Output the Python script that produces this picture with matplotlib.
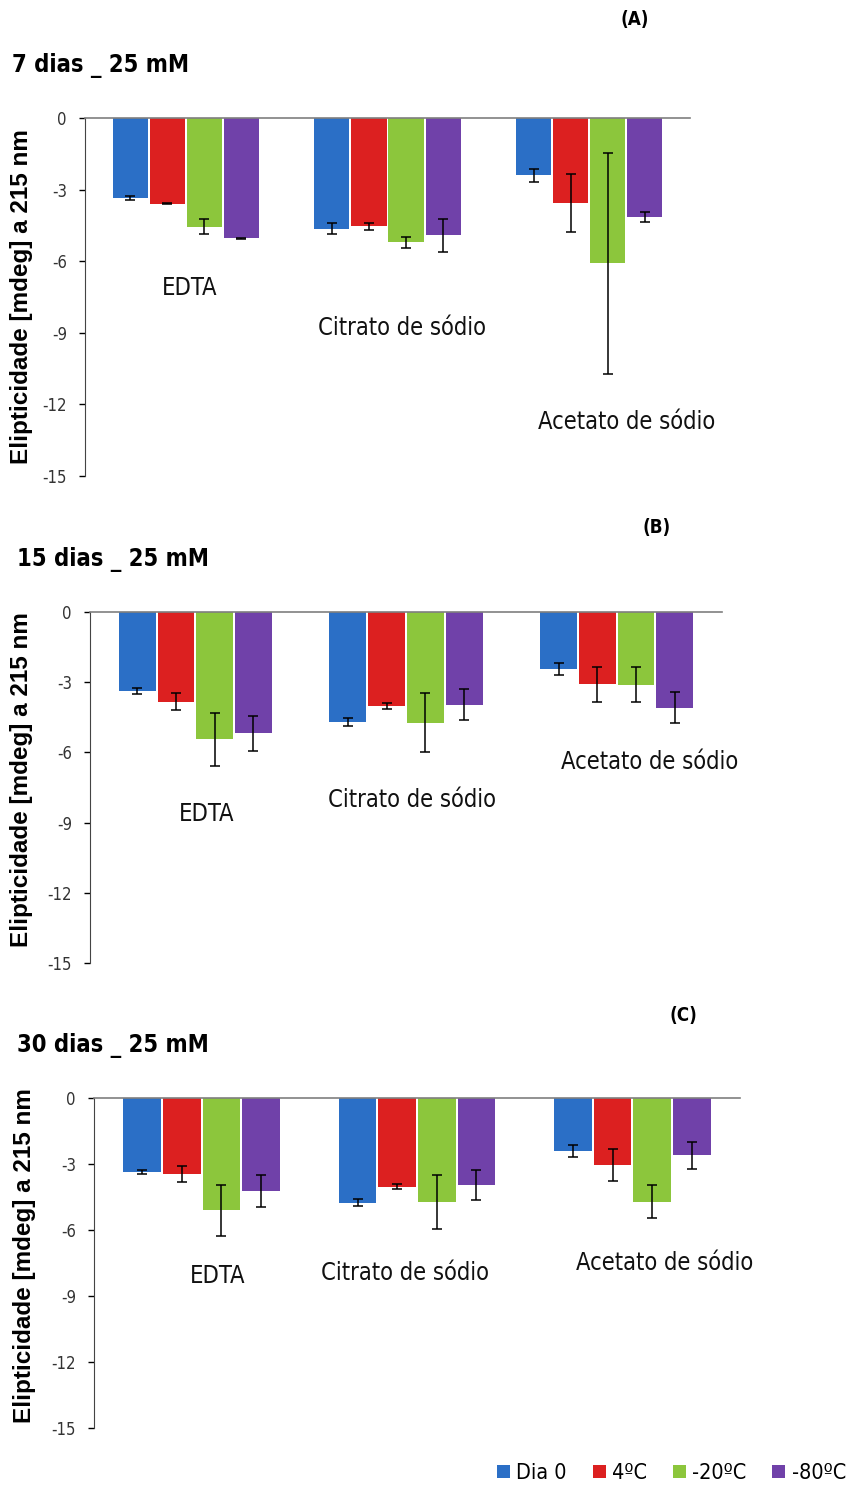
import matplotlib
matplotlib.use('Agg')
import matplotlib.pyplot as plt
import numpy as np
from matplotlib.patches import Patch

W, H = 848, 1486

groups = ['EDTA', 'Citrato de sódio', 'Acetato de sódio']
series = ['Dia 0', '4ºC', '-20ºC', '-80ºC']
colors = ['#2b6fc6', '#dc2020', '#8cc63c', '#7041a9']

# (A) 7 dias
vals_a = [[-3.35, -4.64, -2.40],
          [-3.59, -4.54, -3.55],
          [-4.56, -5.21, -6.08],
          [-5.03, -4.92, -4.15]]
err_a = [[0.10, 0.22, 0.27],
         [0.03, 0.15, 1.22],
         [0.31, 0.23, 4.63],
         [0.02, 0.68, 0.22]]

# (B) 15 dias
vals_b = [[-3.37, -4.71, -2.43],
          [-3.83, -4.01, -3.09],
          [-5.44, -4.73, -3.11],
          [-5.19, -3.97, -4.09]]
err_b = [[0.14, 0.18, 0.27],
         [0.37, 0.12, 0.75],
         [1.14, 1.25, 0.75],
         [0.75, 0.66, 0.65]]

# (C) 30 dias
vals_c = [[-3.36, -4.75, -2.41],
          [-3.47, -4.04, -3.03],
          [-5.10, -4.72, -4.72],
          [-4.22, -3.97, -2.61]]
err_c = [[0.10, 0.17, 0.28],
         [0.36, 0.11, 0.73],
         [1.15, 1.24, 0.75],
         [0.74, 0.68, 0.60]]

yticks = [0, -3, -6, -9, -12, -15]

panels = [
    dict(vals=vals_a, err=err_a, title='7 dias _ 25 mM', tag='(A)',
         box=(85, 118, 690, 476), title_xy=(12, 65), tag_xy=(635, 20),
         ylab_xy=(22, 297),
         lab_xy=[(190, 288), (402, 328), (627, 422)]),
    dict(vals=vals_b, err=err_b, title='15 dias _ 25 mM', tag='(B)',
         box=(90, 612, 722, 963), title_xy=(17, 560), tag_xy=(657, 527),
         ylab_xy=(22, 780),
         lab_xy=[(207, 814), (412, 800), (650, 762)]),
    dict(vals=vals_c, err=err_c, title='30 dias _ 25 mM', tag='(C)',
         box=(94, 1098, 740, 1428), title_xy=(17, 1045), tag_xy=(683, 1015),
         ylab_xy=(25, 1256),
         lab_xy=[(218, 1276), (405, 1273), (665, 1263)]),
]

font = ['DejaVu Sans']

fig = plt.figure(figsize=(W / 100, H / 100), dpi=100)


def fx(px):
    return px / W


def fy(py):
    return 1 - py / H


x = np.arange(len(groups))
bw = 0.175
step = 0.184

for p in panels:
    x0, y0, x1, y1 = p['box']
    ax = fig.add_axes([fx(x0), fy(y1), (x1 - x0) / W, (y1 - y0) / H])
    for i, s in enumerate(series):
        ax.bar(x + (i - 1.5) * step, p['vals'][i], bw, color=colors[i],
               yerr=p['err'][i], capsize=3.5,
               error_kw=dict(ecolor='black', elinewidth=1.1, capthick=1.1))
    ax.set_xlim(-0.5, 2.5)
    ax.set_ylim(-15, 0)
    ax.set_yticks(yticks)
    ax.set_yticklabels([str(t) for t in yticks], family=font, fontsize=12,
                       color='#333333', stretch='condensed')
    ax.set_xticks([])
    ax.tick_params(axis='y', direction='out', length=4, width=1, pad=9)
    for side in ['right', 'bottom']:
        ax.spines[side].set_visible(False)
    ax.spines['top'].set_color('#7f7f7f')
    ax.spines['top'].set_linewidth(1.2)
    ax.spines['left'].set_color('#444444')
    ax.patch.set_alpha(0)

    fig.text(fx(p['ylab_xy'][0]), fy(p['ylab_xy'][1]),
             'Elipticidade [mdeg] a 215 nm', rotation=90, ha='center',
             va='center', fontsize=17.5, fontweight='bold',
             family='Liberation Sans')
    fig.text(fx(p['title_xy'][0]), fy(p['title_xy'][1]), p['title'],
             ha='left', va='center', fontsize=17, fontweight='bold',
             family=font, stretch='condensed')
    fig.text(fx(p['tag_xy'][0]), fy(p['tag_xy'][1]), p['tag'],
             ha='center', va='center', fontsize=13.5, fontweight='bold',
             family=font, stretch='condensed')
    for g, (lx, ly) in zip(groups, p['lab_xy']):
        fig.text(fx(lx), fy(ly), g, ha='center', va='center', fontsize=17,
                 family=font, color='#111111', stretch='condensed')

handles = [Patch(facecolor=c, label=s) for c, s in zip(colors, series)]
fig.legend(handles=handles, loc='center right', bbox_to_anchor=(fx(846), fy(1473)),
           ncol=4, frameon=False, handlelength=0.6, handleheight=0.6,
           handletextpad=0.3, columnspacing=1.2, borderaxespad=0, borderpad=0,
           prop=dict(family=font, size=15.5, stretch='condensed'))

fig.savefig('out.png', dpi=100)
